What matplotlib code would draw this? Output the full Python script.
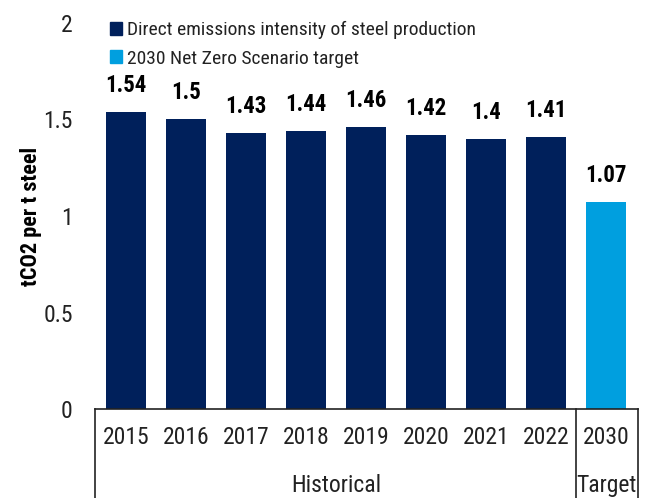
import matplotlib.pyplot as plt
from matplotlib.patches import Patch

# data
years = ['2015', '2016', '2017', '2018', '2019', '2020', '2021', '2022', '2030']
intensity = [1.54, 1.50, 1.43, 1.44, 1.46, 1.42, 1.40, 1.41, 1.07]
value_labels = ['1.54', '1.5', '1.43', '1.44', '1.46', '1.42', '1.4', '1.41', '1.07']
groups = ['Historical', 'Target']
group_spans = [(0, 7), (8, 8)]
legend_labels = ['Direct emissions intensity of steel production',
                 '2030 Net Zero Scenario target']

NAVY = '#00205B'
LIGHT = '#009FDF'
TXT = '#222222'

plt.rcParams['font.family'] = ['Roboto Condensed', 'DejaVu Sans']

fig = plt.figure(figsize=(6.47, 4.98), dpi=100)
ax = fig.add_axes([95 / 647, 1 - 409 / 498, 543 / 647, 386 / 498])

colors = [NAVY] * 8 + [LIGHT]
x = list(range(len(years)))
ax.bar(x, intensity, width=0.67, color=colors, zorder=2)

for xi, v, lab in zip(x, intensity, value_labels):
    ax.annotate(lab, (xi, v), xytext=(0, 11), textcoords='offset points',
                ha='center', va='bottom', fontsize=16.5, fontweight='bold', color='black')

ax.set_xlim(-0.52, 8.53)
ax.set_ylim(0, 2)
ax.set_yticks([0, 0.5, 1, 1.5, 2])
ax.set_yticklabels(['0', '0.5', '1', '1.5', '2'])
ax.tick_params(axis='y', length=0, pad=16, labelsize=17, labelcolor=TXT)
ax.set_xticks(x)
ax.set_xticklabels(years)
ax.tick_params(axis='x', length=0, pad=12, labelsize=17, labelcolor=TXT)

for s in ['top', 'right', 'left']:
    ax.spines[s].set_visible(False)
ax.spines['bottom'].set_color('#222222')
ax.spines['bottom'].set_linewidth(1.2)

ax.set_ylabel('tCO2 per t steel', fontsize=16, fontweight='bold')
ax.yaxis.set_label_coords(-0.098, 0.5)

# group separators below axis
for xs in [-0.52, 7.5, 8.53]:
    ax.axvline(xs, ymin=-0.25, ymax=0, color='#222222', lw=1.2, clip_on=False)
for g, (a, b) in zip(groups, group_spans):
    ax.annotate(g, ((a + b) / 2, 0), xycoords=('data', 'axes fraction'),
                xytext=(0, -55), textcoords='offset points',
                ha='center', va='center', fontsize=17, color=TXT, annotation_clip=False)

handles = [Patch(color=NAVY), Patch(color=LIGHT)]
ax.legend(handles, legend_labels, loc='upper left', bbox_to_anchor=(-0.005, 1.05),
          frameon=False, fontsize=14, handlelength=0.65, handleheight=0.65,
          handletextpad=0.25, labelspacing=0.54, labelcolor=TXT)

fig.savefig('out.png', dpi=100)
